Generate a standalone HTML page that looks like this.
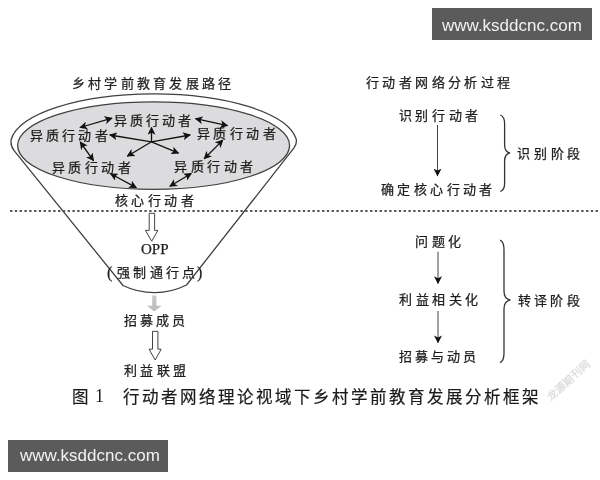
<!DOCTYPE html>
<html lang="zh-CN">
<head>
<meta charset="utf-8">
<style>
html,body{margin:0;padding:0;background:#fff;}
.g{position:absolute;left:0;top:0;width:600px;height:480px;will-change:transform;filter:blur(0.3px);}
body{width:600px;height:480px;position:relative;overflow:hidden;}
svg{position:absolute;left:0;top:0;}
.t{position:absolute;white-space:nowrap;font-family:"Liberation Serif",serif;font-size:13px;line-height:13px;letter-spacing:2px;color:#1e1e1e;-webkit-text-stroke:0.25px #1e1e1e;}
.wm{position:absolute;background:#5b5b5b;color:#f2f2f2;font-family:"Liberation Sans",sans-serif;font-size:17px;line-height:35px;height:32px;width:160px;box-sizing:border-box;}
.cap{position:absolute;white-space:nowrap;font-family:"Liberation Sans",sans-serif;font-size:16.5px;line-height:16px;letter-spacing:2px;color:#1a1a1a;-webkit-text-stroke:0.2px #1a1a1a;}
</style>
</head>
<body>
<div class="g">
<svg width="600" height="480" viewBox="0 0 600 480">
  <defs>
    <marker id="ah" viewBox="0 0 10 10" refX="9" refY="5" markerWidth="8" markerHeight="8" markerUnits="userSpaceOnUse" orient="auto-start-reverse">
      <path d="M0,0 L10,5 L0,10 L2.5,5 z" fill="#111"/>
    </marker>
    <linearGradient id="gg" x1="0" y1="0" x2="0" y2="1">
      <stop offset="0" stop-color="#c8c8c8"/>
      <stop offset="1" stop-color="#bcbcbc"/>
    </linearGradient>
  </defs>
  <!-- funnel outer -->
  <path d="M123,285.5 L14.3,150.8 Q10.2,146 11.2,139.5 A143.3 50.8 0 0 1 296,138.5 Q297.5,143 293.8,148.2 L186.5,285 A72 72 0 0 1 123,285.5 Z" fill="#fff" stroke="#404040" stroke-width="1.3" stroke-linejoin="round"/>
  <!-- inner gray ellipse -->
  <ellipse cx="153.6" cy="145.6" rx="136" ry="43.7" fill="#dcdcde" stroke="#404040" stroke-width="1.3"/>
  <!-- dotted line -->
  <line x1="10" y1="211" x2="600" y2="211" stroke="#5a5a5a" stroke-width="2" stroke-dasharray="2.4 2.4"/>
  <!-- arrows within ellipse -->
  <g stroke="#111" stroke-width="1.3" fill="none">
    <line x1="80" y1="127.5" x2="112" y2="118.2" marker-start="url(#ah)" marker-end="url(#ah)"/>
    <line x1="195.5" y1="118.7" x2="227.5" y2="125.7" marker-start="url(#ah)" marker-end="url(#ah)"/>
    <line x1="80.2" y1="142" x2="93.5" y2="160.7" marker-start="url(#ah)" marker-end="url(#ah)"/>
    <line x1="222.8" y1="140.1" x2="204.2" y2="158.8" marker-start="url(#ah)" marker-end="url(#ah)"/>
    <line x1="110.6" y1="173.8" x2="136.3" y2="187.6" marker-start="url(#ah)" marker-end="url(#ah)"/>
    <line x1="191.3" y1="173.5" x2="169.8" y2="186.3" marker-start="url(#ah)" marker-end="url(#ah)"/>
    <line x1="151.5" y1="141.8" x2="151.5" y2="127.5" marker-end="url(#ah)"/>
    <line x1="151.5" y1="141.8" x2="109.8" y2="135" marker-end="url(#ah)"/>
    <line x1="151.5" y1="141.8" x2="190.2" y2="135" marker-end="url(#ah)"/>
    <line x1="151.5" y1="141.8" x2="127.3" y2="156.2" marker-end="url(#ah)"/>
    <line x1="151.5" y1="141.8" x2="178.5" y2="153.2" marker-end="url(#ah)"/>
  </g>
  <!-- hollow arrow OPP -->
  <path d="M149.2,213.3 L154.6,213.3 L154.6,230.4 L157.9,230.4 L151.7,241.2 L145.4,230.4 L149.2,230.4 Z" fill="#fff" stroke="#444" stroke-width="1"/>
  <!-- gray arrow -->
  <path d="M152.2,295.5 L156.4,295.5 L156.4,305.8 L161.6,305.8 L154.3,311.5 L147,305.8 L152.2,305.8 Z" fill="url(#gg)"/>
  <!-- hollow arrow 2 -->
  <path d="M152.5,331.3 L157.9,331.3 L157.9,349.2 L161.2,349.2 L155.2,360 L149,349.2 L152.5,349.2 Z" fill="#fff" stroke="#444" stroke-width="1"/>
  <!-- right arrows -->
  <g stroke="#444" stroke-width="1" fill="none">
    <line x1="437.5" y1="125" x2="437.5" y2="175.8" marker-end="url(#ah)"/>
    <line x1="438" y1="251.7" x2="438" y2="283.4" marker-end="url(#ah)"/>
    <line x1="438" y1="311" x2="438" y2="342.6" marker-end="url(#ah)"/>
  </g>
  <!-- braces -->
  <g stroke="#333" stroke-width="1.3" fill="none">
    <path d="M500.3,115 Q504.6,116.5 504.6,124 L504.6,145 Q504.6,152 510,153 Q504.6,154 504.6,161 L504.6,183.5 Q504.6,190 500.3,191.5"/>
    <path d="M500.2,240.2 Q504,242 504,250 L504,291 Q504,299 510.4,300 Q504,301 504,309 L504,353 Q504,361 500,362.7"/>
  </g>
  <!-- diagonal watermark -->
  <text x="0" y="0" transform="translate(551,401) rotate(-42)" font-family="Liberation Sans, sans-serif" font-size="10.5" font-weight="bold" fill="#dedede" letter-spacing="0.8">龙源期刊网</text>
</svg>

<div class="wm" style="left:432px;top:8px;padding-left:10px;">www.ksddcnc.com</div>
<div class="wm" style="left:8px;top:440px;padding-left:12px;line-height:31px;">www.ksddcnc.com</div>

<div class="t" style="left:72.0px;top:76.6px;letter-spacing:3.22px;">乡村学前教育发展路径</div>
<div class="t" style="left:366.0px;top:75.6px;letter-spacing:3.40px;">行动者网络分析过程</div>

<div class="t" style="left:113.5px;top:114.0px;letter-spacing:3.15px;">异质行动者</div>
<div class="t" style="left:29.5px;top:128.6px;letter-spacing:3.25px;">异质行动者</div>
<div class="t" style="left:197.0px;top:127.0px;letter-spacing:3.45px;">异质行动者</div>
<div class="t" style="left:51.5px;top:161.3px;letter-spacing:3.50px;">异质行动者</div>
<div class="t" style="left:174.0px;top:159.5px;letter-spacing:3.50px;">异质行动者</div>
<div class="t" style="left:115.0px;top:193.5px;letter-spacing:3.40px;">核心行动者</div>

<div class="t" style="left:141px;top:242px;font-size:15px;line-height:15px;letter-spacing:0;">OPP</div>
<div class="t" style="left:107px;top:265px;letter-spacing:0;font-size:16px;line-height:16px;">(</div>
<div class="t" style="left:117.0px;top:266.3px;letter-spacing:3.25px;">强制通行点</div>
<div class="t" style="left:197px;top:265px;letter-spacing:0;font-size:16px;line-height:16px;">)</div>
<div class="t" style="left:124.0px;top:314.4px;letter-spacing:3.00px;">招募成员</div>
<div class="t" style="left:124.0px;top:364.1px;letter-spacing:3.33px;">利益联盟</div>

<div class="t" style="left:398.5px;top:109.4px;letter-spacing:3.70px;">识别行动者</div>
<div class="t" style="left:381.0px;top:182.5px;letter-spacing:3.40px;">确定核心行动者</div>
<div class="t" style="left:517.0px;top:147.2px;letter-spacing:3.80px;">识别阶段</div>
<div class="t" style="left:415.0px;top:234.9px;letter-spacing:3.50px;">问题化</div>
<div class="t" style="left:399.0px;top:292.5px;letter-spacing:3.50px;">利益相关化</div>
<div class="t" style="left:399.0px;top:349.5px;letter-spacing:3.00px;">招募与动员</div>
<div class="t" style="left:517.5px;top:293.5px;letter-spacing:3.40px;">转译阶段</div>

<div class="cap" style="left:72px;top:389px;-webkit-text-stroke:0.15px #1a1a1a;">图</div>
<div class="cap" style="left:95px;top:387px;font-family:'Liberation Serif',serif;font-size:18px;line-height:18px;letter-spacing:0;-webkit-text-stroke:0;">1</div>
<div class="cap" style="left:123px;top:389px;">行动者网络理论视域下乡村学前教育发展分析框架</div>
</div>
</body>
</html>
